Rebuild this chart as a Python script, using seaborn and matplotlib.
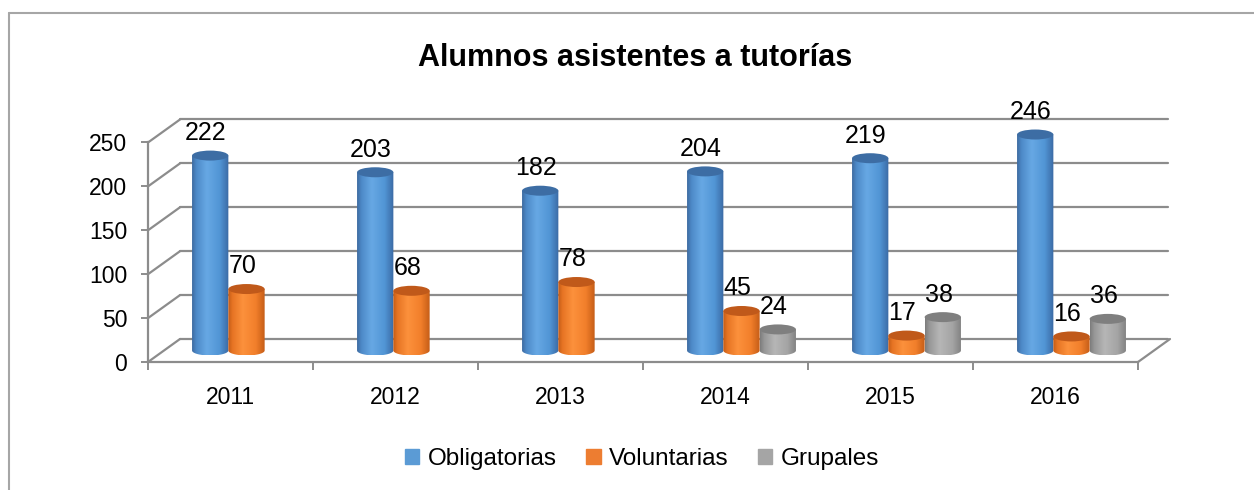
import numpy as np
import pandas as pd
import matplotlib
matplotlib.use("Agg")
import matplotlib.pyplot as plt
import seaborn as sns
from matplotlib.patches import Ellipse, Polygon, Patch
from matplotlib.colors import LinearSegmentedColormap
from matplotlib.lines import Line2D

# ---------------- data ----------------
years = ["2011", "2012", "2013", "2014", "2015", "2016"]
obligatorias = [222, 203, 182, 204, 219, 246]
voluntarias = [70, 68, 78, 45, 17, 16]
grupales = [np.nan, np.nan, np.nan, 24, 38, 36]
series = ["Obligatorias", "Voluntarias", "Grupales"]
title = "Alumnos asistentes a tutorías"
yticks = [0, 50, 100, 150, 200, 250]

legend_colors = ["#5b9bd5", "#ed7d31", "#a5a5a5"]
body_grads = [
    ["#3e6aa0", "#4d89c8", "#67a8e4", "#5195d5", "#3a69a3"],
    ["#c25a16", "#e67424", "#fc913c", "#f27f2b", "#c55d17"],
    ["#7c7c7c", "#989898", "#b6b6b6", "#a4a4a4", "#7f7f7f"],
]
top_colors = ["#3d6da4", "#c0591a", "#7f7f7f"]

df = pd.DataFrame({
    "Año": years * 3,
    "Serie": np.repeat(series, len(years)),
    "Alumnos": obligatorias + voluntarias + grupales,
}).dropna()

sns.set_theme(style="white")
plt.rcParams["font.family"] = ["Liberation Sans", "DejaVu Sans"]
plt.rcParams["text.color"] = "black"
plt.rcParams["xtick.color"] = "black"
plt.rcParams["ytick.color"] = "black"

W, H = 1254, 490
fig = plt.figure(figsize=(W / 100, H / 100), dpi=100)

# pixel geometry of the pseudo-3D frame
X0, X1 = 148, 1168
Y0, YT = 362, 116
CAT = 165.0
PXU = 219.5 / 250.0
ax = fig.add_axes([X0 / W, 1 - Y0 / H, (X1 - X0) / W, (Y0 - YT) / H])
xlim = (-0.5, -0.5 + (X1 - X0) / CAT)
ylim = (0, (Y0 - YT) / PXU)
DX = 32 / CAT
DY = 23 / PXU
EH = 10 / PXU

sns.barplot(data=df, x="Año", y="Alumnos", hue="Serie", order=years,
            hue_order=series, palette=legend_colors, width=0.66, gap=0,
            saturation=1, legend=False, ax=ax)

gcol = "#8c8c8c"
# back wall grid + side wall diagonals
for v in yticks:
    ax.plot([-0.5 + DX, xlim[1]], [v + DY, v + DY], color=gcol, lw=1.6,
            clip_on=False, zorder=0.5)
    ax.plot([-0.5, -0.5 + DX], [v, v + DY], color=gcol, lw=1.6,
            clip_on=False, zorder=0.5)
ax.plot([5.5, 5.5 + DX], [0, DY], color=gcol, lw=1.6, clip_on=False, zorder=0.5)

grad = np.linspace(0, 1, 256)[None, :]
for i, cont in enumerate(ax.containers):
    cm = LinearSegmentedColormap.from_list(f"g{i}", list(zip([0, 0.12, 0.4, 0.75, 1], body_grads[i])))
    for p in cont.patches:
        h = p.get_height()
        p.set_visible(False)
        if not np.isfinite(h):
            continue
        x0 = p.get_x() + DX / 2
        w = p.get_width()
        xc = x0 + w / 2
        base = DY / 2
        top = base + h
        t = np.linspace(np.pi, 2 * np.pi, 60)
        pts = [(x0, top), (x0, base)] + list(zip(xc + w / 2 * np.cos(t), base + EH / 2 * np.sin(t))) + [(x0 + w, base), (x0 + w, top)]
        poly = Polygon(pts, closed=True, fc="none", ec="none", transform=ax.transData)
        ax.add_patch(poly)
        im = ax.imshow(grad, cmap=cm, extent=(x0, x0 + w, base - EH / 2, top),
                       aspect="auto", zorder=2 + i * 0.1, interpolation="bilinear")
        im.set_clip_path(poly)
        ax.add_patch(Ellipse((xc, top), w, EH, fc=top_colors[i], ec="none",
                             zorder=2.05 + i * 0.1))
        ax.annotate(f"{h:g}", xy=(xc, top + EH / 2), xytext=(-3, 4),
                    textcoords="offset points", ha="center", va="bottom",
                    fontsize=18, color="black", zorder=5)

ax.set_xlim(*xlim)
ax.set_ylim(*ylim)
ax.set_xlabel("")
ax.set_ylabel("")
ax.set_yticks(yticks)
ax.set_xticks(range(len(years)))
ax.set_xticklabels(years)
ax.set_xticks(np.arange(-0.5, len(years)), minor=True)
ax.tick_params(axis="y", which="major", left=True, length=5, width=1.4,
               color=gcol, labelsize=16.5, pad=10, labelcolor="black")
ax.tick_params(axis="x", which="major", bottom=True, length=0, labelsize=16.5,
               pad=17, labelcolor="black")
ax.tick_params(axis="x", which="minor", bottom=True, length=6, width=1.4,
               color=gcol, direction="out")
for s in ["top", "right"]:
    ax.spines[s].set_visible(False)
ax.spines["bottom"].set_bounds(-0.5, 5.5)
ax.spines["left"].set_bounds(0, 250)
for s in ["bottom", "left"]:
    ax.spines[s].set_color(gcol)
    ax.spines[s].set_linewidth(1.6)
ax.set_facecolor("none")

fig.text(635 / W, 1 - 58 / H, title, ha="center", va="center",
         fontsize=22, fontweight="bold", color="black")

handles = [Patch(color=c, label=s) for c, s in zip(legend_colors, series)]
fig.legend(handles=handles, loc="center", bbox_to_anchor=(642 / W, 1 - 459 / H),
           ncol=3, frameon=False, fontsize=17.5, handlelength=0.6,
           handleheight=0.6, handletextpad=0.35, columnspacing=1.2,
           labelcolor="black")

fig.add_artist(Line2D([9 / W, 9 / W], [0, 1 - 13 / H], transform=fig.transFigure,
                      color="#a6a6a6", lw=1.5))
fig.add_artist(Line2D([9 / W, 1], [1 - 13 / H, 1 - 13 / H], transform=fig.transFigure,
                      color="#a6a6a6", lw=1.5))

fig.savefig("out.png", dpi=100)
